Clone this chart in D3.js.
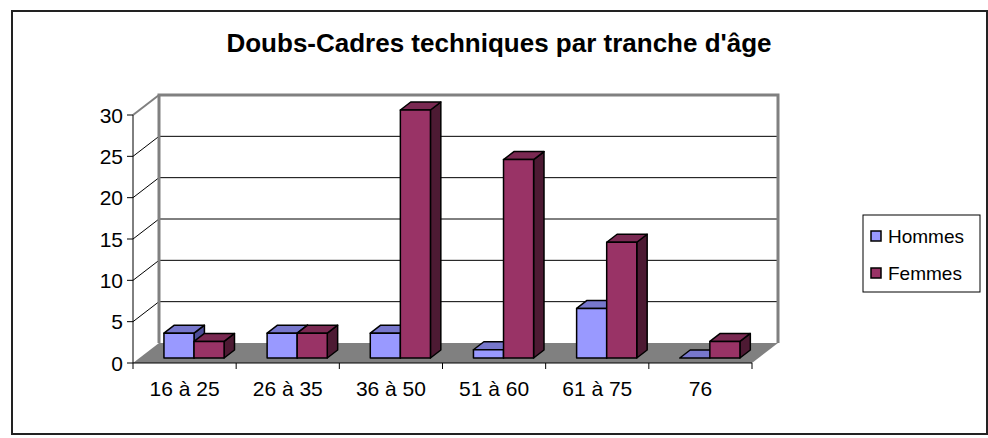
<!DOCTYPE html>
<html>
<head>
<meta charset="utf-8">
<script src="https://cdn.jsdelivr.net/npm/d3@7"></script>
<style>
html,body{margin:0;padding:0;background:#fff;}
svg{display:block;font-family:"Liberation Sans",Arial,sans-serif;}
</style>
</head>
<body>
<svg id="chart" width="988" height="438"></svg>
<script>
const categories = ["16 à 25", "26 à 35", "36 à 50", "51 à 60", "61 à 75", "76"];
const seriesNames = ["Hommes", "Femmes"];
const hommes = [3, 3, 3, 1, 6, 0];
const femmes = [2, 3, 30, 24, 14, 2];
const yTicks = [0, 5, 10, 15, 20, 25, 30];
const title = "Doubs-Cadres techniques par tranche d'âge";

const colors = {
  Hommes: {front: "#9999FF", top: "#7777CC", side: "#4D4D99"},
  Femmes: {front: "#993366", top: "#7A2952", side: "#4D1A33"}
};

const svg = d3.select("#chart");

// outer border
svg.append("rect").attr("x", 12).attr("y", 11).attr("width", 975).attr("height", 423)
  .attr("fill", "#fff").attr("stroke", "#222").attr("stroke-width", 2);

// title
svg.append("text").attr("x", 499).attr("y", 52).attr("text-anchor", "middle")
  .attr("font-size", 26).attr("font-weight", "bold").attr("fill", "#000").text(title);

// 3D geometry
const DX = 26, DY = -20;
const x = d3.scaleBand().domain(categories).range([133, 752]);
const y = d3.scaleLinear().domain([0, 30]).range([363, 115]);
const bw = x.bandwidth();
const inner = d3.scaleBand().domain(seriesNames).range([bw * 0.237, bw * 0.82]);
const dFront = 0.25, dBack = 0.65;

function P(px, v, d) { return [px + d * DX, y(v) + d * DY]; }
const poly = pts => "M" + pts.map(p => p.join(",")).join("L") + "Z";

const x0 = 133, x1 = 752;
// back wall
svg.append("rect").attr("x", x0 + DX).attr("y", y(30) + DY).attr("width", x1 - x0)
  .attr("height", y(0) - y(30)).attr("fill", "#fff");
// floor
svg.append("path").attr("d", poly([P(x0, 0, 0), P(x1, 0, 0), P(x1, 0, 1), P(x0, 0, 1)]))
  .attr("fill", "#808080");

// gridlines (back wall + left wall)
yTicks.filter(t => t > 0 && t < 30).forEach(t => {
  svg.append("line").attr("x1", x0 + DX).attr("x2", x1 + DX)
    .attr("y1", y(t) + DY).attr("y2", y(t) + DY).attr("stroke", "#000").attr("stroke-width", 1);
  svg.append("line").attr("x1", x0).attr("y1", y(t)).attr("x2", x0 + DX).attr("y2", y(t) + DY)
    .attr("stroke", "#000").attr("stroke-width", 1);
});
// wall edges (gray)
svg.append("path").attr("d", "M" + [x0 + DX, y(0) + DY] + "L" + [x0 + DX, y(30) + DY] + "L" + [x1 + DX, y(30) + DY] + "L" + [x1 + DX, y(0) + DY])
  .attr("fill", "none").attr("stroke", "#808080").attr("stroke-width", 3);
svg.append("line").attr("x1", x0).attr("y1", y(30)).attr("x2", x0 + DX).attr("y2", y(30) + DY)
  .attr("stroke", "#808080").attr("stroke-width", 2);

// y axis
svg.append("line").attr("x1", x0).attr("x2", x0).attr("y1", y(30)).attr("y2", y(0))
  .attr("stroke", "#000").attr("stroke-width", 1);
yTicks.forEach(t => {
  svg.append("line").attr("x1", x0 - 6).attr("x2", x0).attr("y1", y(t)).attr("y2", y(t))
    .attr("stroke", "#000");
  svg.append("text").attr("x", x0 - 10).attr("y", y(t) + 7.5).attr("text-anchor", "end")
    .attr("font-size", 21).attr("fill", "#000").text(t);
});

// x axis
svg.append("line").attr("x1", x0).attr("x2", x1).attr("y1", y(0)).attr("y2", y(0))
  .attr("stroke", "#000");
categories.forEach((c, i) => {
  svg.append("line").attr("x1", x(c)).attr("x2", x(c)).attr("y1", y(0)).attr("y2", y(0) + 6)
    .attr("stroke", "#000");
  svg.append("text").attr("x", x(c) + bw / 2).attr("y", 396).attr("text-anchor", "middle")
    .attr("font-size", 21).attr("fill", "#000").text(c);
});
svg.append("line").attr("x1", x1).attr("x2", x1).attr("y1", y(0)).attr("y2", y(0) + 6)
  .attr("stroke", "#000");

// bars
const data = {Hommes: hommes, Femmes: femmes};
categories.forEach((c, i) => {
  seriesNames.forEach(s => {
    const v = data[s][i];
    const l = x(c) + inner(s), r = l + inner.bandwidth();
    const col = colors[s];
    const g = svg.append("g").attr("stroke", "#000").attr("stroke-width", 1.5).attr("stroke-linejoin", "round");
    if (v > 0) {
      g.append("path").attr("d", poly([P(r, 0, dFront), P(r, 0, dBack), P(r, v, dBack), P(r, v, dFront)]))
        .attr("fill", col.side);
    }
    g.append("path").attr("d", poly([P(l, v, dFront), P(r, v, dFront), P(r, v, dBack), P(l, v, dBack)]))
      .attr("fill", col.top);
    if (v > 0) {
      g.append("path").attr("d", poly([P(l, 0, dFront), P(r, 0, dFront), P(r, v, dFront), P(l, v, dFront)]))
        .attr("fill", col.front);
    }
  });
});

// legend
svg.append("rect").attr("x", 863).attr("y", 215).attr("width", 117).attr("height", 77)
  .attr("fill", "#fff").attr("stroke", "#000").attr("stroke-width", 1);
seriesNames.forEach((s, i) => {
  const cy = 236 + i * 37;
  svg.append("rect").attr("x", 871).attr("y", cy - 5).attr("width", 10).attr("height", 10)
    .attr("fill", colors[s].front).attr("stroke", "#000").attr("stroke-width", 1.5);
  svg.append("text").attr("x", 888).attr("y", cy + 7).attr("font-size", 19).attr("fill", "#000").text(s);
});
</script>
</body>
</html>
